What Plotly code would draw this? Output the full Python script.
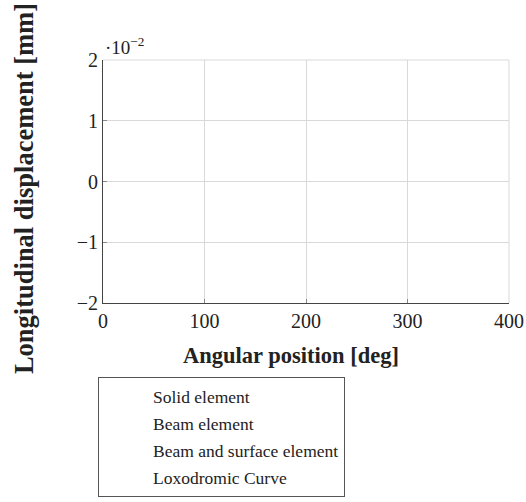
import plotly.graph_objects as go

# Data (the reference chart shows no plotted data, only legend entries)
series_names = ["Solid element", "Beam element", "Beam and surface element", "Loxodromic Curve"]
series_x = [[None], [None], [None], [None]]
series_y = [[None], [None], [None], [None]]
x_ticks = [0, 100, 200, 300, 400]
y_ticks = [-2, -1, 0, 1, 2]

FONT = "Liberation Serif"
fig = go.Figure()
for i, name in enumerate(series_names):
    fig.add_trace(go.Scatter(x=series_x[i], y=series_y[i], mode="lines", name=name,
                             legendgroup=f"g{i}", showlegend=True,
                             line=dict(color="rgba(0,0,0,0)", width=1)))

fig.update_layout(
    width=526, height=502,
    margin=dict(l=103, r=17, t=60, b=199, autoexpand=False),
    plot_bgcolor="white", paper_bgcolor="white",
    font=dict(family=FONT, size=20, color="#222"),
    showlegend=True,
    legend=dict(x=-0.0123, y=-0.3045, xanchor="left", yanchor="top",
                bordercolor="#555", borderwidth=1, bgcolor="white",
                font=dict(family=FONT, size=17.5, color="#222"),
                traceorder="grouped", tracegroupgap=1.5,
                itemwidth=44),
    xaxis=dict(range=[0, 400], tickvals=x_ticks, showgrid=True, gridcolor="#d9d9d9",
               showline=True, linecolor="#444", linewidth=1, zeroline=False, automargin=False,
               ticks="inside", ticklen=4, tickcolor="#888", tickfont=dict(size=20)),
    yaxis=dict(range=[-2, 2], tickvals=y_ticks, showgrid=True, gridcolor="#d9d9d9",
               showline=True, linecolor="#444", linewidth=1, zeroline=False, automargin=False,
               ticks="inside", ticklen=4, tickcolor="#888", tickfont=dict(size=20)),
    shapes=[
        dict(type="line", xref="paper", yref="paper", x0=0, x1=1, y0=1, y1=1,
             line=dict(color="#d9d9d9", width=1)),
        dict(type="line", xref="paper", yref="paper", x0=1, x1=1, y0=0, y1=1,
             line=dict(color="#d9d9d9", width=1)),
    ],
    annotations=[
        dict(text="<b>Angular position [deg]</b>", xref="paper", yref="paper",
             x=0.463, y=-0.214, xanchor="center", yanchor="middle", showarrow=False,
             font=dict(family=FONT, size=22.5)),
        dict(text="<b>Longitudinal displacement [mm]</b>", xref="paper", yref="paper",
             x=-0.1946, y=0.473, xanchor="center", yanchor="middle", textangle=-90,
             showarrow=False, font=dict(family=FONT, size=26.5)),
        dict(text="·10<sup>−2</sup>", xref="paper", yref="paper",
             x=0.0, y=1.0, xanchor="left", yanchor="bottom", showarrow=False,
             font=dict(family=FONT, size=19)),
    ],
)

fig.write_html("out.html")
